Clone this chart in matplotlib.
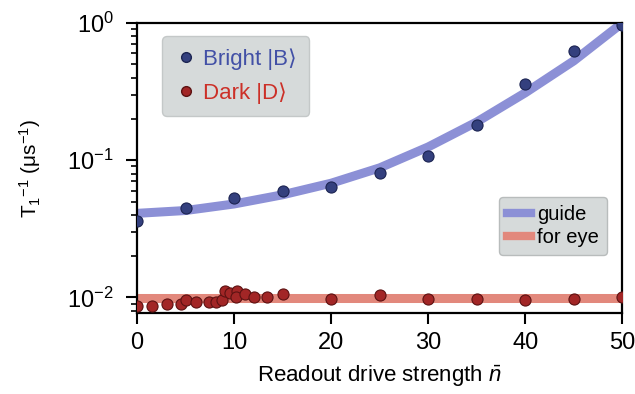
import numpy as np
import matplotlib
matplotlib.use("Agg")
import matplotlib.pyplot as plt
from matplotlib.lines import Line2D

plt.rcParams['font.family'] = ['Liberation Sans', 'DejaVu Sans']
plt.rcParams['mathtext.fontset'] = 'custom'
plt.rcParams['mathtext.rm'] = 'Liberation Sans'
plt.rcParams['mathtext.it'] = 'Liberation Sans:italic'

# bright state data
bright_x = [0, 5, 10, 15, 20, 25, 30, 35, 40, 45, 50]
bright_y = [0.036, 0.045, 0.053, 0.060, 0.064, 0.081, 0.108, 0.181, 0.36, 0.63, 0.96]

# dark state data
dark_x = [0, 1.5, 3.1, 4.5, 5.0, 6.1, 7.4, 8.1, 8.7, 9.1, 9.6, 10.3, 10.2, 11.1,
          12.0, 13.4, 15, 20, 25, 30, 35, 40, 45, 50]
dark_y = [0.0087, 0.0086, 0.0089, 0.0090, 0.0095, 0.0092, 0.0092, 0.0092, 0.0095,
          0.0111, 0.0107, 0.0112, 0.0101, 0.0106, 0.0101, 0.0101, 0.0106, 0.0098,
          0.0105, 0.0098, 0.0098, 0.0096, 0.0097, 0.0101]

# guide-for-eye curves
guide_x = [0, 5, 10, 15, 20, 25, 30, 35, 40, 45, 50]
guide_bright = [0.041, 0.043, 0.048, 0.056, 0.068, 0.088, 0.125, 0.19, 0.31, 0.53, 1.0]
guide_dark = [0.0099, 0.0099, 0.0099, 0.0099, 0.0099, 0.0099, 0.0099, 0.0099,
              0.0099, 0.0099, 0.0099]

C_GUIDE_B = "#8c90d6"
C_GUIDE_D = "#e2887c"
C_PT_B = "#34407e"
C_PT_D = "#a22626"

fig = plt.figure(figsize=(6.35, 3.94), dpi=100)
ax = fig.add_axes([0.216, 0.2056, 0.764, 0.736])

ax.plot(guide_x, guide_bright, color=C_GUIDE_B, lw=6.5, solid_capstyle='butt', zorder=2)
ax.plot(guide_x, guide_dark, color=C_GUIDE_D, lw=6.5, solid_capstyle='butt', zorder=2)
ax.plot(bright_x, bright_y, 'o', color=C_PT_B, mec="#1c2452", mew=0.8, ms=8, zorder=3)
ax.plot(dark_x, dark_y, 'o', color=C_PT_D, mec="#5c1212", mew=0.8, ms=8, zorder=3)

ax.set_yscale('log')
ax.set_xlim(0, 50)
ax.set_ylim(0.0077, 1.0)
ax.set_xticks([0, 10, 20, 30, 40, 50])

for s in ax.spines.values():
    s.set_linewidth(1.6)
ax.tick_params(axis='both', which='major', labelsize=17, direction='out',
               length=8, width=1.5, pad=6)
ax.tick_params(axis='y', which='major', pad=9)
ax.tick_params(axis='y', which='minor', direction='out', length=4.5, width=1.2)

ax.set_xlabel(r"Readout drive strength $\bar{n}$", fontsize=16, labelpad=7)
ax.set_ylabel("T$_1$$^{-1}$ (\u03bcs$^{-1}$)", fontsize=15, labelpad=17)

h1 = [Line2D([], [], ls='none', marker='o', color=C_PT_B, mec="#1c2452", ms=7),
      Line2D([], [], ls='none', marker='o', color=C_PT_D, mec="#5c1212", ms=7)]
leg1 = ax.legend(h1, ["Bright |B\u27e9", "Dark |D\u27e9"], loc='upper left',
                 bbox_to_anchor=(0.052, 0.955), borderaxespad=0, fontsize=16,
                 handletextpad=0.3, handlelength=1.0, borderpad=0.55,
                 labelspacing=0.55, frameon=True, fancybox=True,
                 facecolor="#d6dada", edgecolor="#c4c8c8", framealpha=1.0)
leg1.get_texts()[0].set_color("#4250a6")
leg1.get_texts()[1].set_color("#cc3028")
ax.add_artist(leg1)

h2 = [Line2D([], [], color=C_GUIDE_B, lw=6),
      Line2D([], [], color=C_GUIDE_D, lw=6)]
leg2 = ax.legend(h2, ["guide", "for eye"], loc='upper right',
                 bbox_to_anchor=(0.969, 0.401), borderaxespad=0, fontsize=14.5,
                 handletextpad=0.3, handlelength=1.2, borderpad=0.4,
                 labelspacing=0.2, frameon=True, fancybox=True,
                 facecolor="#d6dada", edgecolor="#b8bcbc", framealpha=1.0)

fig.savefig("out.png", dpi=100)
